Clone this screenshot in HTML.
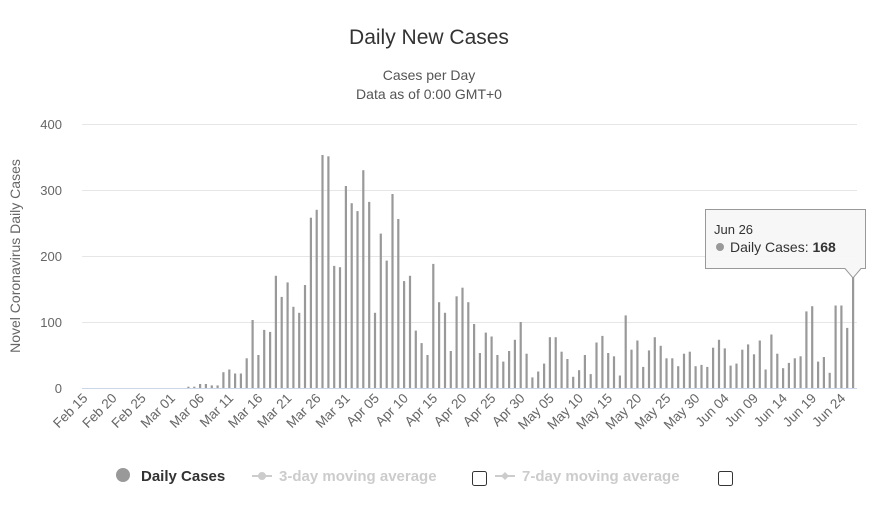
<!DOCTYPE html>
<html><head><meta charset="utf-8">
<style>body{margin:0;background:#fff}svg{display:block;font-family:"Liberation Sans",sans-serif}</style>
</head><body>
<svg id="c" width="878" height="508" xmlns="http://www.w3.org/2000/svg">
<text x="429" y="44" text-anchor="middle" font-size="21" fill="#333">Daily New Cases</text>
<text x="429" y="80" text-anchor="middle" font-size="14" fill="#555">Cases per Day</text>
<text x="429" y="99" text-anchor="middle" font-size="14" fill="#555">Data as of 0:00 GMT+0</text>
<g stroke="#e6e6e6" stroke-width="1">
<line x1="82" x2="857" y1="124.5" y2="124.5"/><line x1="82" x2="857" y1="190.5" y2="190.5"/>
<line x1="82" x2="857" y1="256.5" y2="256.5"/><line x1="82" x2="857" y1="322.5" y2="322.5"/>
</g>
<line x1="82" x2="857" y1="388.5" y2="388.5" stroke="#ccd6eb"/>
<g font-size="13" fill="#666" text-anchor="end">
<text x="62" y="129">400</text><text x="62" y="195">300</text><text x="62" y="261">200</text><text x="62" y="327">100</text><text x="62" y="393">0</text>
</g>
<text transform="translate(20,256) rotate(-90)" text-anchor="middle" font-size="14" fill="#666">Novel Coronavirus Daily Cases</text>
<g id="bars" fill="#999"></g>
<g id="labs" font-size="13.5" fill="#666" text-anchor="end"></g>
<line x1="853" x2="853" y1="278" y2="388" stroke="#999" stroke-width="2"/>
<path d="M705.5 209.5 H865.5 V268.5 H861 L853 278 L845 268.5 H705.5 Z" fill="#f7f7f7" fill-opacity="0.95" stroke="#999" stroke-width="1"/>
<text x="714" y="234" font-size="13" fill="#333">Jun 26</text>
<circle cx="720" cy="247" r="4" fill="#999"/>
<text x="730" y="252" font-size="14" fill="#333">Daily Cases: <tspan font-weight="bold">168</tspan></text>
<circle cx="123" cy="475" r="7" fill="#999"/>
<text x="141" y="481" font-size="15" font-weight="bold" fill="#333">Daily Cases</text>
<line x1="252" x2="272" y1="476" y2="476" stroke="#ccc" stroke-width="2"/><circle cx="262" cy="476" r="4" fill="#ccc"/>
<text x="279" y="481" font-size="15" font-weight="bold" fill="#ccc">3-day moving average</text>
<rect x="472.5" y="471.5" width="14" height="14" rx="2" fill="#fff" stroke="#333"/>
<line x1="495" x2="515" y1="476" y2="476" stroke="#ccc" stroke-width="2"/><path d="M505 472 L509 476 L505 480 L501 476Z" fill="#ccc"/>
<text x="522" y="481" font-size="15" font-weight="bold" fill="#ccc">7-day moving average</text>
<rect x="718.5" y="471.5" width="14" height="14" rx="2" fill="#fff" stroke="#333"/>
</svg>
<script>
var v=[0,0,0,0,0,0,0,0,0,0,0,0,0,0,0,0,0,0,2,2,6,6,4,4,24,28,22,22,45,103,50,88,85,170,138,160,123,114,156,258,270,353,351,185,183,306,280,268,330,282,114,234,193,294,256,162,170,87,68,50,188,130,114,56,139,152,130,97,53,84,78,50,40,56,73,100,52,16,25,37,77,77,55,44,17,27,50,21,69,79,53,48,19,110,58,72,32,57,77,64,45,45,33,52,55,33,35,32,61,73,60,34,37,58,66,51,72,28,81,52,30,38,45,48,116,124,40,47,23,125,125,91,168];
var g=document.getElementById("bars"),L=document.getElementById("labs");
var st=83.4,w=5.83,s="",l="";
var names=["Feb 15","Feb 20","Feb 25","Mar 01","Mar 06","Mar 11","Mar 16","Mar 21","Mar 26","Mar 31","Apr 05","Apr 10","Apr 15","Apr 20","Apr 25","Apr 30","May 05","May 10","May 15","May 20","May 25","May 30","Jun 04","Jun 09","Jun 14","Jun 19","Jun 24"];
for(var i=0;i<v.length;i++){var x=st+i*w;var h=v[i]*0.66;if(v[i]>0)s+='<rect x="'+(x-1).toFixed(1)+'" y="'+(388-h).toFixed(1)+'" width="2.2" height="'+h.toFixed(1)+'"/>';}
for(var j=0;j<names.length;j++){var x=st+j*5*w+5;l+='<text transform="translate('+x.toFixed(1)+',399) rotate(-45)">'+names[j]+'</text>';}
g.innerHTML=s;L.innerHTML=l;
</script>
</body></html>
